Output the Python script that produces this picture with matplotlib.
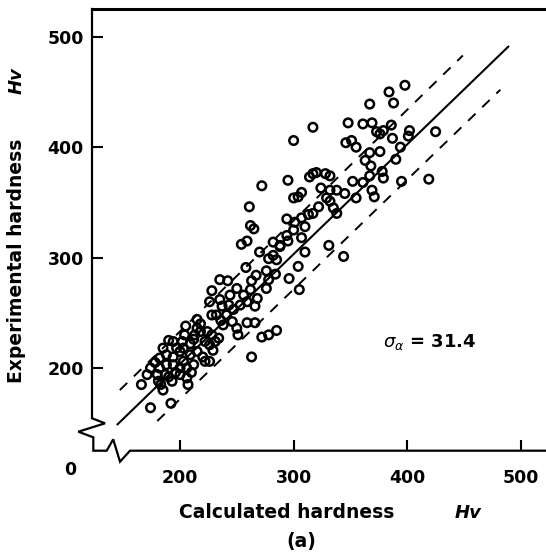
import matplotlib
matplotlib.use("Agg")
import matplotlib.pyplot as plt
from matplotlib.lines import Line2D

# ---------------- data ----------------
calc_hv = [
    398, 384, 388, 367, 317, 348, 361, 369, 386, 373, 376, 379, 402, 401, 425,
    300, 346, 351, 355, 387, 394, 367, 376, 363, 368, 390, 295, 314, 317, 320,
    328, 332, 352, 361, 367, 378, 379, 395, 419, 300, 304, 307, 324, 332, 338,
    345, 329, 332, 335, 338, 355, 369, 371, 322, 317, 313, 294, 301, 307, 310,
    300, 294, 288, 295, 307, 331, 310, 344, 304, 261, 262, 265, 272,
    254, 259, 235, 242, 228, 258, 270, 282, 288, 278, 282, 285, 296, 305, 267,
    276, 284, 278, 263, 276, 250, 256, 262, 268, 266, 259, 253, 235, 243, 237,
    228, 232, 241, 247, 246, 250, 251, 238, 259, 266, 272, 278, 285, 263, 222,
    226, 215, 218, 213, 204, 202, 209, 218, 224, 228, 222, 226, 231, 229, 234,
    194, 197, 185, 182, 188, 194, 200, 203, 209, 215, 212, 206, 200, 194, 188,
    187, 193, 200, 206, 174, 171, 180, 181, 185, 166, 207, 174, 192, 182,
    190, 205, 196, 210, 178, 203, 220, 212, 236, 244, 226, 190, 215, 183,
]
exp_hv = [
    456, 450, 440, 439, 418, 422, 421, 422, 420, 414, 412, 415, 415, 410, 414,
    406, 404, 406, 400, 408, 400, 395, 396, 388, 383, 389, 370, 373, 376, 377,
    376, 374, 369, 368, 374, 378, 372, 369, 371, 354, 355, 359, 363, 361, 361,
    358, 354, 351, 345, 340, 354, 361, 355, 346, 340, 339, 335, 332, 336, 328,
    325, 320, 310, 315, 318, 311, 305, 301, 292, 346, 329, 326, 365,
    312, 315, 280, 279, 270, 291, 305, 314, 311, 299, 302, 298, 281, 271, 284,
    288, 285, 280, 279, 272, 272, 266, 271, 263, 256, 260, 257, 262, 257, 256,
    248, 248, 248, 253, 242, 236, 230, 239, 241, 241, 228, 230, 234, 210, 206,
    206, 244, 240, 230, 230, 224, 222, 233, 233, 230, 224, 221, 224, 216, 227,
    224, 218, 218, 209, 212, 210, 215, 206, 212, 215, 203, 200, 200, 203, 203,
    194, 188, 194, 191, 200, 194, 194, 188, 180, 185, 185, 164, 168, 200,
    225, 238, 196, 196, 205, 218, 210, 226, 243, 266, 260, 192, 236, 185,
]

fit_x = [145, 489]
fit_y = [149, 491]
upper_x = [147, 449]
upper_y = [180, 483]
lower_x = [180, 482]
lower_y = [152, 452]

xticks = [200, 300, 400, 500]
yticks = [200, 300, 400, 500]
sigma_text = r"$\sigma_{\alpha}$ = 31.4"

# ---------------- figure ----------------
W, H = 546, 554
fig = plt.figure(figsize=(W / 100, H / 100), dpi=100)
plt.rcParams['font.family'] = ['DejaVu Sans']

def fx(px):
    return px / W

def fy(py):
    return 1 - py / H

ax_l, ax_r, ax_t, ax_b = 92, 546, 9, 450.7
ax = fig.add_axes([fx(ax_l), fy(ax_b), (ax_r - ax_l) / W, (ax_b - ax_t) / H])
ax.set_xlim(122.5, 522.2)
ax.set_ylim(125.1, 525.1)

ax.scatter(calc_hv, exp_hv, s=38, facecolors='none', edgecolors='black',
           linewidths=1.8, zorder=3)
ax.plot(fit_x, fit_y, color='black', lw=1.5)
ax.plot(upper_x, upper_y, color='black', lw=1.4, linestyle=(0, (5.3, 4.8)))
ax.plot(lower_x, lower_y, color='black', lw=1.4, linestyle=(0, (5.3, 4.8)))

for s in ['left', 'bottom', 'right']:
    ax.spines[s].set_visible(False)
ax.spines['top'].set_linewidth(2.2)

# axis lines with break marks (axes-fraction coordinates)
path_x = [0, 0, 0.0286, -0.0302, 0.0029, 0.0029, 0.0324, 0.0467, 0.0617, 0.0837, 1.0]
path_y = [1.0, 0.0734, 0.0620, 0.0430, 0.0303, 0, 0, 0.0258, -0.0249, 0, 0]
ax.add_line(Line2D(path_x, path_y, transform=ax.transAxes, color='black',
                   lw=1.6, clip_on=False, solid_joinstyle='miter'))

ax.set_xticks(xticks)
ax.set_yticks(yticks)
ax.tick_params(direction='in', length=8, width=1.5, labelsize=12.5,
               top=False, right=False)
ax.tick_params(axis='x', pad=13)
ax.tick_params(axis='y', pad=6)
for lab in ax.get_xticklabels() + ax.get_yticklabels():
    lab.set_fontweight('bold')

fig.text(fx(70), fy(470), "0", fontsize=12.5, fontweight='bold',
         ha='center', va='center')

ax.text(379, 223.5, sigma_text, fontsize=13, fontweight='bold',
        ha='left', va='center')

# axis labels
fig.text(fx(287), fy(512), "Calculated hardness", fontsize=13.5,
         fontweight='bold', ha='center', va='center')
fig.text(fx(468), fy(513), "Hv", fontsize=13, fontweight='bold',
         style='italic', ha='center', va='center')
fig.text(fx(301), fy(541), "(a)", fontsize=13.5, fontweight='bold',
         ha='center', va='center')
fig.text(fx(17), fy(261), "Experimental hardness", fontsize=13.5,
         fontweight='bold', ha='center', va='center', rotation=90)
fig.text(fx(17), fy(81), "Hv", fontsize=13, fontweight='bold',
         style='italic', ha='center', va='center', rotation=90)

fig.savefig("out.png", dpi=100)
